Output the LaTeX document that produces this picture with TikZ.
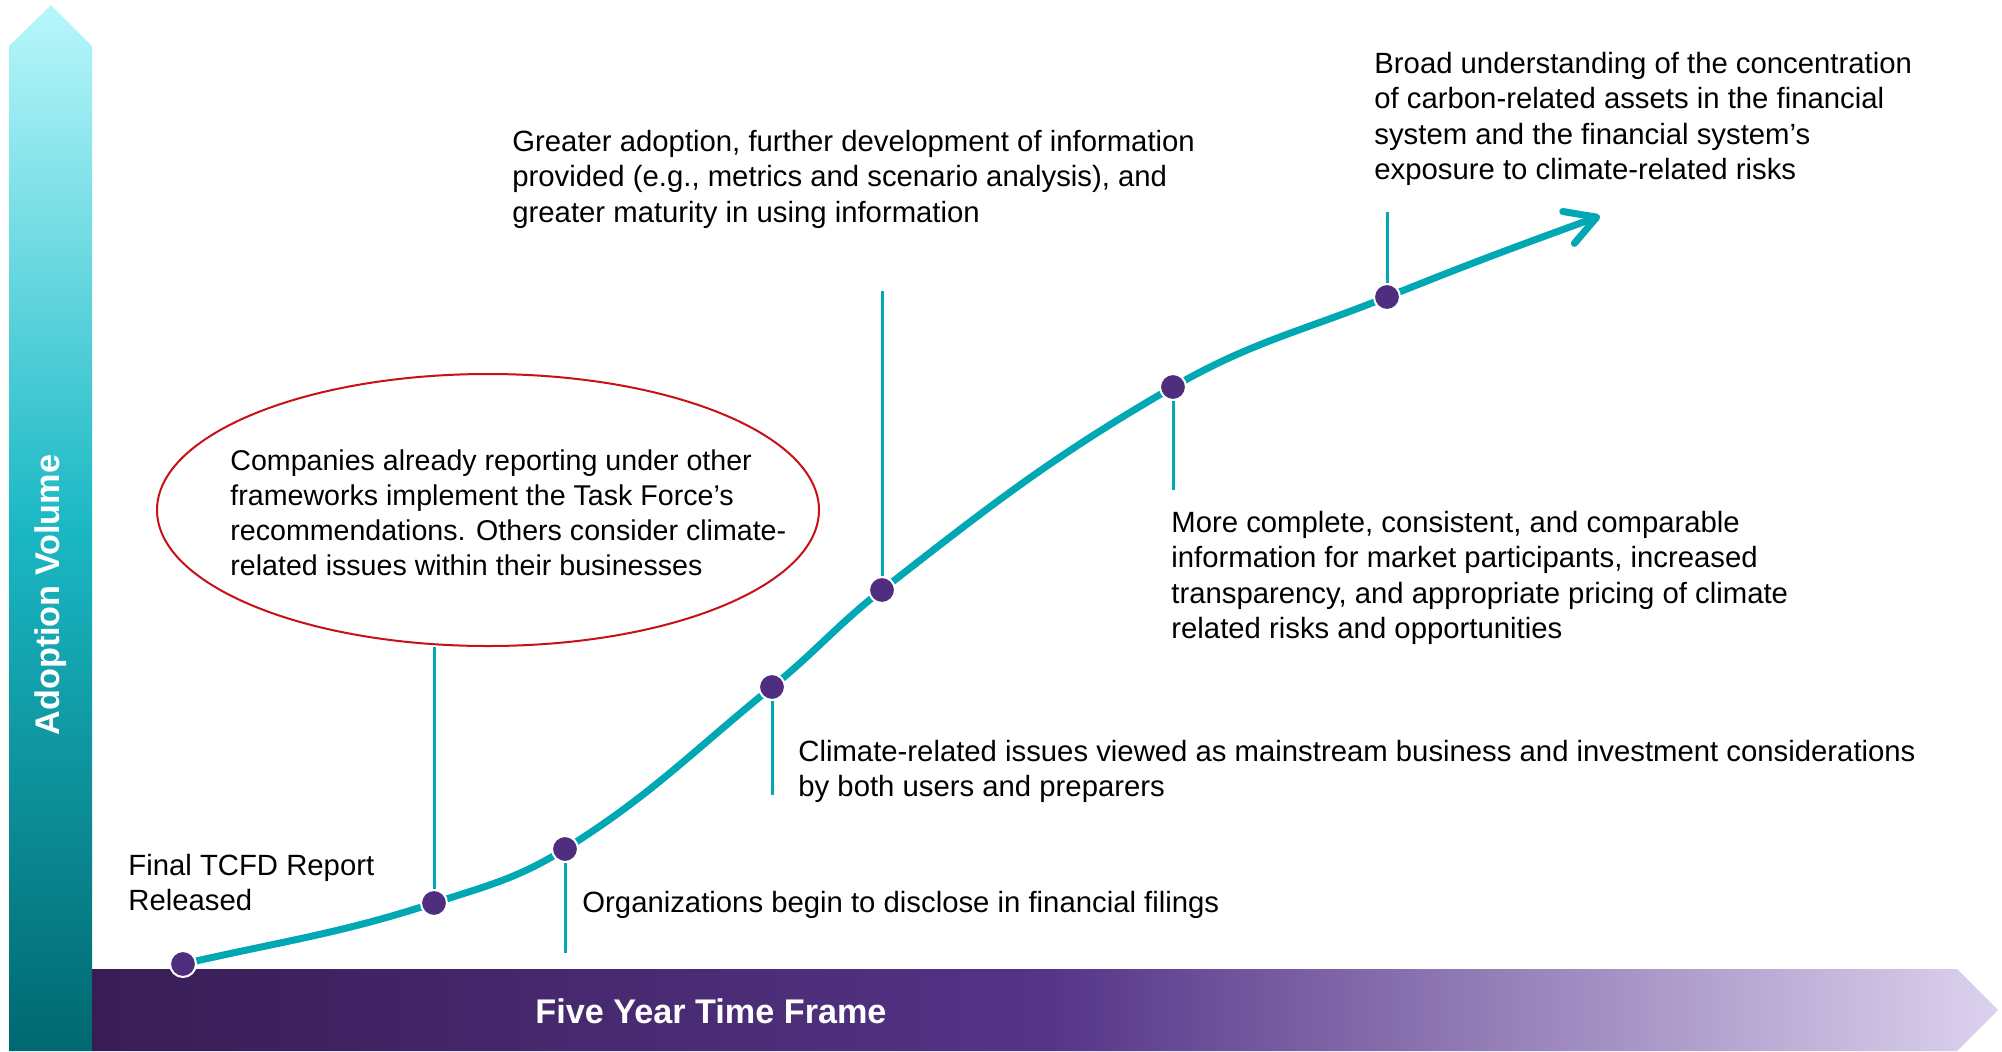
\documentclass[tikz,border=0pt]{standalone}
\usepackage{fontspec}
\setmainfont{Liberation Sans}
\usepackage{tikz}
\usetikzlibrary{arrows.meta,shapes.geometric,calc}
\pgfdeclarelayer{bg}
\pgfsetlayers{bg,main}
\definecolor{curveteal}{RGB}{0,168,180}
\definecolor{dotpurple}{RGB}{79,45,127}
\definecolor{ellred}{RGB}{200,16,22}
\definecolor{vtop}{RGB}{184,247,252}
\definecolor{vmid}{RGB}{26,184,196}
\definecolor{vbot}{RGB}{0,104,112}
\definecolor{hleft}{RGB}{56,29,85}
\definecolor{hmid}{RGB}{84,52,135}
\definecolor{hright}{RGB}{220,210,238}

\begin{document}
\begin{tikzpicture}[x=0.5pt,y=-0.5pt,
    dot/.style={circle,fill=dotpurple,draw=white,line width=1pt,minimum size=13pt,inner sep=0pt},
    leader/.style={draw=curveteal,line width=1.5pt},
    txt/.style={anchor=north west,inner sep=0pt,align=left,font=\fontsize{14.65}{17.6}\selectfont},
    barlabel/.style={text=white,font=\fontsize{17.1}{20}\selectfont\bfseries}]
    \useasboundingbox (0,0) rectangle (2002,1051);

    % milestones on the curve
    \node [dot] (d1) at (183,964) {};
    \node [dot] (d2) at (434,903) {};
    \node [dot] (d3) at (565,849) {};
    \node [dot] (d4) at (772,687) {};
    \node [dot] (d5) at (882,590) {};
    \node [dot] (d6) at (1173,387) {};
    \node [dot] (d7) at (1387,297) {};
    \coordinate (tip) at (1600,216);

    \coordinate (e3) at (565,953);
    \coordinate (e4) at (772,795);
    \coordinate (e5) at (882,291);
    \coordinate (e6) at (1173,490);
    \coordinate (e7) at (1387,212);

    \node [draw=ellred, line width=1pt, ellipse, minimum width=331pt, minimum height=136pt, inner sep=0pt] (ell) at (488,510) {};

    \node [txt] (final) at (128,854) {Final TCFD Report\\Released};
    \node [txt] (orgs) at (582,891) {Organizations begin to disclose in financial filings};
    \node [txt] (climate) at (798,740) {Climate-related issues viewed as mainstream business and investment considerations\\by both users and preparers};
    \node [txt] (complete) at (1171,511) {More complete, consistent, and comparable\\information for market participants, increased\\transparency, and appropriate pricing of climate\\related risks and opportunities};
    \node [txt] (greater) at (512,130) {Greater adoption, further development of information\\provided (e.g., metrics and scenario analysis), and\\greater maturity in using information};
    \node [txt] (broad) at (1374,52) {Broad understanding of the concentration\\of carbon-related assets in the financial\\system and the financial system’s\\exposure to climate-related risks};
    \node [txt, font=\fontsize{14.3}{17.6}\selectfont] (companies) at (230,449) {Companies already reporting under other\\frameworks implement the Task Force’s\\recommendations. Others consider climate-\\related issues within their businesses};

    \begin{pgfonlayer}{bg}    % bars, curve and leaders behind the dots
      \shade [top color=vtop, bottom color=vbot, middle color=vmid]
        (9,1051) -- (9,46) -- (51,5) -- (92,46) -- (92,1051) -- cycle;
      \shade [left color=hleft, right color=hright, middle color=hmid]
        (92,969) -- (1957,969) -- (1998,1010) -- (1957,1051) -- (92,1051) -- cycle;
      \draw [curveteal, line width=3.5pt, line cap=round,
             -{Straight Barb[length=15pt,width=17pt,round]}]
        (d1.center) to[out=13, in=198] (d2.center)
                    to[out=18, in=212] (d3.center)
                    to[out=32, in=219] (d4.center)
                    to[out=39, in=218] (d5.center)
                    to[out=38, in=210] (d6.center)
                    to[out=30, in=202] (d7.center)
                    to[out=22, in=200] (tip);
      \draw [leader] (d2) -- (d2 |- ell.south);
      \draw [leader] (d3) -- (e3);
      \draw [leader] (d4) -- (e4);
      \draw [leader] (d5) -- (e5);
      \draw [leader] (d6) -- (e6);
      \draw [leader] (d7) -- (e7);
    \end{pgfonlayer}

    \node [barlabel, rotate=90] (yaxis) at (51,595) {Adoption Volume};
    \node [barlabel] (xaxis) at (711,1011) {Five Year Time Frame};
\end{tikzpicture}
\end{document}
